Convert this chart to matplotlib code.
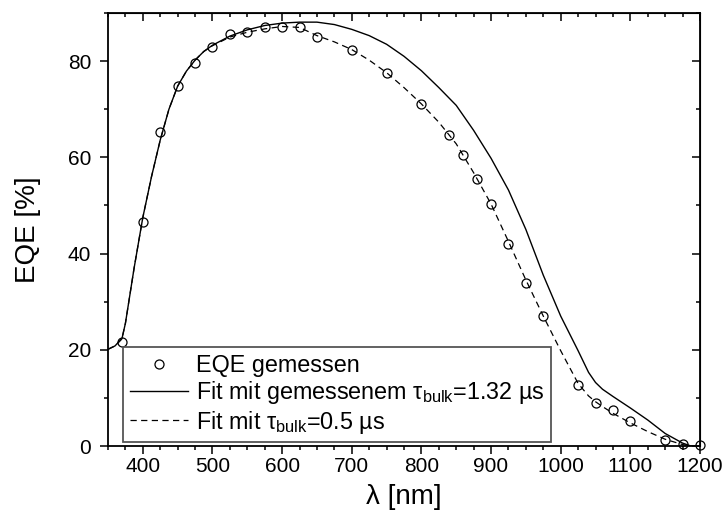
import matplotlib
matplotlib.use("Agg")
from matplotlib import pyplot as plt

plt.rcParams['font.family'] = ['Liberation Sans', 'DejaVu Sans']
plt.rcParams['mathtext.fontset'] = 'custom'
plt.rcParams['mathtext.rm'] = 'Liberation Sans'
plt.rcParams['mathtext.it'] = 'Liberation Sans'

# measured EQE
wl_meas = [370, 400, 425, 450, 475, 500, 525, 550, 575, 600, 625, 650, 700,
           750, 800, 840, 860, 880, 900, 925, 950, 975, 1025, 1050, 1075,
           1100, 1150, 1175, 1200]
eqe_meas = [21.7, 46.6, 65.2, 74.8, 79.6, 83.0, 85.6, 86.0, 87.0, 87.0, 87.0,
            85.0, 82.4, 77.5, 71.0, 64.6, 60.5, 55.5, 50.3, 41.9, 33.9, 27.1,
            12.6, 8.9, 7.4, 5.1, 1.3, 0.5, 0.2]

# fit with measured bulk lifetime (1.32 us)
wl_fit1 = [350, 360, 370, 375, 387.5, 400, 412.5, 425, 437.5, 450, 462.5, 475,
           487.5, 500, 525, 550, 575, 600, 625, 650, 675, 700, 725, 750, 775,
           800, 825, 850, 875, 900, 925, 950, 975, 1000, 1025, 1040, 1050,
           1060, 1075, 1100, 1125, 1150, 1175, 1187, 1200]
eqe_fit1 = [20.1, 20.8, 22.3, 25.5, 37.0, 47.5, 56.0, 63.6, 70.0, 74.8, 77.9,
            80.2, 82.0, 83.3, 85.2, 86.5, 87.4, 87.9, 88.1, 88.1, 87.6, 86.6,
            85.3, 83.5, 81.0, 78.0, 74.5, 70.8, 65.6, 59.8, 53.2, 45.0, 35.5,
            27.0, 19.8, 15.3, 13.2, 11.8, 10.3, 7.9, 5.4, 2.6, 0.6, 0.0, 0.0]

# fit with tau_bulk = 0.5 us
wl_fit2 = [350, 360, 370, 375, 387.5, 400, 412.5, 425, 437.5, 450, 462.5, 475,
           487.5, 500, 525, 550, 575, 600, 625, 650, 675, 700, 725, 750, 775,
           800, 825, 850, 875, 900, 925, 950, 975, 1000, 1025, 1040, 1050,
           1060, 1075, 1100, 1125, 1150, 1175, 1187, 1200]
eqe_fit2 = [20.1, 20.8, 22.3, 25.5, 37.0, 47.5, 56.0, 63.6, 70.0, 74.8, 77.9,
            80.2, 82.0, 83.2, 85.0, 86.0, 86.7, 87.2, 87.0, 85.3, 84.0, 82.4,
            80.2, 77.6, 74.5, 71.1, 67.3, 62.8, 56.8, 50.3, 42.5, 34.5, 27.0,
            19.8, 13.0, 10.4, 9.2, 8.2, 6.8, 4.8, 3.0, 1.4, 0.3, 0.0, 0.0]

fig = plt.figure(figsize=(7.27, 5.22), dpi=100)
ax = fig.add_axes([108/727, 76/522, 592/727, 433/522])

ax.plot(wl_meas, eqe_meas, 'o', mfc='none', mec='black', mew=0.9, ms=6.5,
        clip_on=False, zorder=3, label='EQE gemessen')
ax.plot(wl_fit1, eqe_fit1, '-', color='black', lw=1.0,
        label=r'Fit mit gemessenem $\tau_{\mathrm{bulk}}$=1.32 µs')
ax.plot(wl_fit2, eqe_fit2, '--', color='black', lw=0.9, dashes=(5, 3.5),
        label=r'Fit mit $\tau_{\mathrm{bulk}}$=0.5 µs')

ax.set_xlim(350, 1200)
ax.set_ylim(0, 90)
ax.set_xticks([400, 500, 600, 700, 800, 900, 1000, 1100, 1200])
ax.set_xticks(range(350, 1201, 25), minor=True)
ax.set_yticks([0, 20, 40, 60, 80])
ax.set_yticks(range(0, 91, 10), minor=True)

for s in ax.spines.values():
    s.set_linewidth(1.3)

ax.tick_params(axis='both', which='major', labelsize=15, length=6, width=1.1)
ax.tick_params(axis='both', which='minor', length=3, width=1.1)
ax.tick_params(axis='x', which='both', direction='out', pad=2)
ax.tick_params(axis='y', which='both', direction='out', pad=6)

# mirrored ticks on top and right, pointing inward
top = ax.secondary_xaxis('top')
top.set_xticks([400, 500, 600, 700, 800, 900, 1000, 1100, 1200])
top.set_xticks(range(350, 1201, 25), minor=True)
top.tick_params(which='major', direction='in', length=6, width=1.1, labeltop=False)
top.tick_params(which='minor', direction='in', length=3, width=1.1)
right = ax.secondary_yaxis('right')
right.set_yticks([0, 20, 40, 60, 80])
right.set_yticks(range(0, 91, 10), minor=True)
right.tick_params(which='major', direction='in', length=6, width=1.1, labelright=False)
right.tick_params(which='minor', direction='in', length=3, width=1.1)

ax.set_xlabel('λ [nm]', fontsize=20)
ax.set_ylabel('EQE [%]', fontsize=20)
ax.xaxis.set_label_coords(0.5, -0.087)
ax.yaxis.set_label_coords(-0.113, 0.5)

leg = ax.legend(loc='lower left', bbox_to_anchor=(0.0253, 0.009),
                borderaxespad=0, fontsize=16.8, handlelength=2.5,
                handletextpad=0.35, labelspacing=0.1, borderpad=0.28,
                fancybox=False, framealpha=1)
leg.get_frame().set_edgecolor('#555555')
leg.get_frame().set_linewidth(1.3)

fig.savefig('out.png', dpi=100)
